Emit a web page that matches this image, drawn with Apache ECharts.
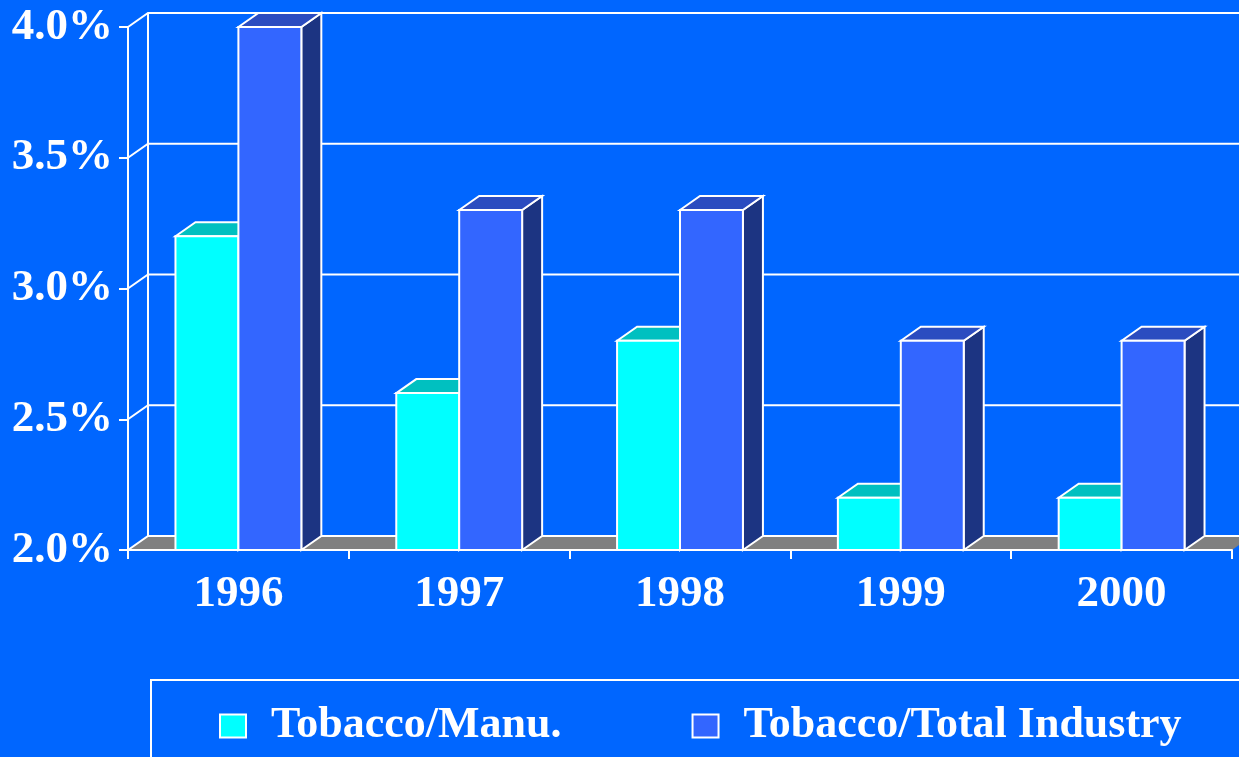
<!DOCTYPE html>
<html>
<head>
<meta charset="utf-8">
<script src="https://cdn.jsdelivr.net/npm/echarts@6/dist/echarts.min.js"></script>
<style>
html,body{margin:0;padding:0;background:#0066FF;}
#chart{width:1239px;height:757px;}
</style>
</head>
<body>
<div id="chart"></div>
<script>
var years = ['1996', '1997', '1998', '1999', '2000'];
var manuValues = [3.2, 2.6, 2.8, 2.2, 2.2];
var totalValues = [4.0, 3.3, 3.3, 2.8, 2.8];
var yTicks = [2.0, 2.5, 3.0, 3.5, 4.0];

var yMin = 2.0, yMax = 4.0;
var DX = 20, DY = 14; // depth of the 3d box
var FONT = 'Liberation Serif, Times New Roman, serif';
var WHITE = '#ffffff';

// back wall, left wall diagonals and grey floor
function wallRenderer(params, api) {
    var v = api.value(1);
    var cs = params.coordSys;
    var x0 = cs.x, x1 = cs.x + cs.width;
    var y = api.coord([0, v])[1];
    var children = [];
    if (v === yMin) {
        children.push({
            type: 'polygon',
            shape: {points: [[x0, y], [x0 + DX, y - DY], [x1 + DX, y - DY], [x1, y]]},
            style: {fill: '#808080'}
        });
    }
    if (v === yMax) {
        var yb = api.coord([0, yMin])[1];
        children.push({
            type: 'line',
            shape: {x1: x0 + DX, y1: yb - DY, x2: x0 + DX, y2: y - DY},
            style: {stroke: WHITE, lineWidth: 2}
        });
    }
    children.push({
        type: 'polyline',
        shape: {points: [[x0, y], [x0 + DX, y - DY], [x1 + DX, y - DY]]},
        style: {stroke: WHITE, lineWidth: 2, fill: null}
    });
    return {type: 'group', children: children};
}

function barRenderer(offset, front, top, side) {
    return function (params, api) {
        var idx = api.value(0), v = api.value(1);
        var base = api.coord([idx, yMin]);
        var tip = api.coord([idx, v]);
        var w = api.size([1, 0])[0] * 0.285;
        var x0 = base[0] + offset * w, x1 = x0 + w;
        var yb = base[1], yt = tip[1];
        return {
            type: 'group',
            children: [
                {type: 'polygon', shape: {points: [[x1, yb], [x1 + DX, yb - DY], [x1 + DX, yt - DY], [x1, yt]]},
                    style: {fill: side, stroke: WHITE, lineWidth: 2}},
                {type: 'polygon', shape: {points: [[x0, yt], [x0 + DX, yt - DY], [x1 + DX, yt - DY], [x1, yt]]},
                    style: {fill: top, stroke: WHITE, lineWidth: 2}},
                {type: 'rect', shape: {x: x0, y: yt, width: w, height: yb - yt},
                    style: {fill: front, stroke: WHITE, lineWidth: 2}}
            ]
        };
    };
}

var myChart = echarts.init(document.getElementById('chart'));
var option = {
    backgroundColor: '#0066FF',
    animation: false,
    grid: {left: 128, right: 7, top: 27, bottom: 207},
    xAxis: {
        type: 'category',
        data: years,
        z: 5,
        axisLine: {lineStyle: {color: WHITE, width: 2}},
        axisTick: {show: true, length: 9, lineStyle: {color: WHITE, width: 2}},
        axisLabel: {color: WHITE, fontSize: 45, fontWeight: 'bold', fontFamily: FONT, margin: 22}
    },
    yAxis: {
        type: 'value',
        min: yMin,
        max: yMax,
        interval: 0.5,
        z: 5,
        axisLine: {show: true, lineStyle: {color: WHITE, width: 2}},
        axisTick: {show: true, length: 9, lineStyle: {color: WHITE, width: 2}},
        splitLine: {show: false},
        axisLabel: {
            color: WHITE, fontSize: 45, fontWeight: 'bold', fontFamily: FONT, margin: 15,
            formatter: function (v) { return v.toFixed(1) + '%'; }
        }
    },
    legend: {
        left: 151,
        top: 680,
        width: 1200,
        padding: [24, 90, 40, 68],
        itemGap: 130,
        itemWidth: 26,
        itemHeight: 23,
        icon: 'rect',
        borderColor: WHITE,
        borderWidth: 2,
        itemStyle: {borderColor: WHITE, borderWidth: 2},
        textStyle: {color: WHITE, fontSize: 44, fontWeight: 'bold', fontFamily: FONT, padding: [0, 0, 0, 20]},
        data: ['Tobacco/Manu.', 'Tobacco/Total Industry']
    },
    series: [
        {
            type: 'custom',
            name: 'wall',
            z: 1,
            silent: true,
            renderItem: wallRenderer,
            encode: {x: 0, y: 1},
            data: yTicks.map(function (v) { return [0, v]; })
        },
        {
            type: 'custom',
            name: 'Tobacco/Manu.',
            z: 3,
            itemStyle: {color: '#00FFFF'},
            renderItem: barRenderer(-1, '#00FFFF', '#00C0C0', '#00A0A0'),
            encode: {x: 0, y: 1},
            data: manuValues.map(function (v, i) { return [i, v]; })
        },
        {
            type: 'custom',
            name: 'Tobacco/Total Industry',
            z: 3,
            itemStyle: {color: '#3366FF'},
            renderItem: barRenderer(0, '#3366FF', '#2B4CC0', '#1C3482'),
            encode: {x: 0, y: 1},
            data: totalValues.map(function (v, i) { return [i, v]; })
        }
    ]
};
myChart.setOption(option);
</script>
</body>
</html>
